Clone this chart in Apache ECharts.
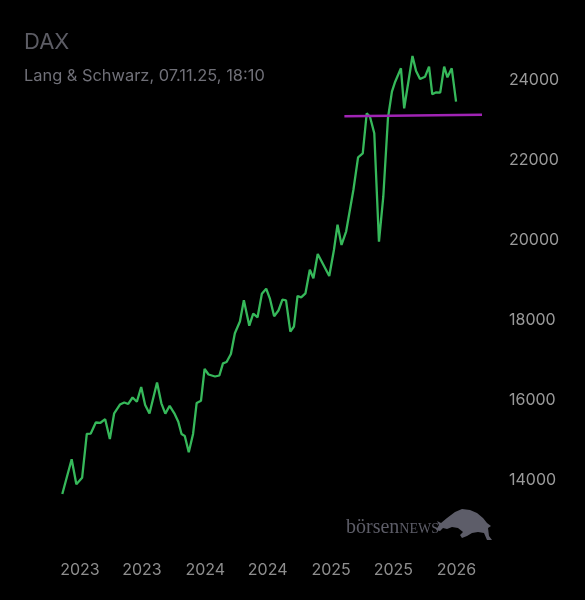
<!DOCTYPE html>
<html>
<head>
<meta charset="utf-8">
<script src="https://cdn.jsdelivr.net/npm/echarts@6/dist/echarts.min.js"></script>
<style>html,body{margin:0;padding:0;background:#000;}#c{width:585px;height:600px;}</style>
</head>
<body>
<div id="c"></div>
<script>
const dates = ['2022-11-10','2022-12-06','2022-12-19','2023-01-04','2023-01-17','2023-01-28','2023-02-11','2023-02-24','2023-03-09','2023-03-22',
'2023-04-03','2023-04-19','2023-05-01','2023-05-12','2023-05-24','2023-06-05','2023-06-17','2023-06-28','2023-07-10','2023-07-31',
'2023-08-12','2023-08-23','2023-09-04','2023-09-17','2023-09-28','2023-10-07','2023-10-16','2023-10-27','2023-11-08','2023-11-18',
'2023-11-30','2023-12-10','2023-12-21','2024-01-08','2024-01-20','2024-01-30','2024-02-09','2024-02-21','2024-03-03','2024-03-17',
'2024-03-28','2024-04-12','2024-04-23','2024-05-05','2024-05-17','2024-05-29','2024-06-08','2024-06-20','2024-07-02','2024-07-13',
'2024-07-23','2024-08-04','2024-08-14','2024-08-24','2024-09-03','2024-09-15','2024-09-27','2024-10-07','2024-10-19','2024-11-04',
'2024-11-20','2024-12-03','2024-12-13','2024-12-24','2025-01-06','2025-01-26','2025-02-08','2025-02-21','2025-03-04','2025-03-13',
'2025-03-25','2025-04-07','2025-04-19','2025-05-02','2025-05-13','2025-05-22','2025-06-07','2025-06-16','2025-07-09','2025-07-19',
'2025-07-30','2025-08-13','2025-08-24','2025-09-02','2025-09-13','2025-09-24','2025-10-05','2025-10-14','2025-10-26','2025-11-07'];
const values = [13663,14533,13908,14068,15163,15173,15450,15443,15533,15038,
15680,15898,15950,15913,16075,15970,16338,15888,15673,16450,
15930,15673,15868,15680,15470,15163,15113,14705,15163,15938,
15995,16788,16650,16600,16625,16930,16963,17163,17680,17975,
18505,17870,18170,18080,18670,18793,18555,18105,18250,18520,
18505,17720,17850,18613,18580,18680,19270,19055,19663,19388,
19113,19763,20395,19888,20230,21263,22080,22180,23180,23095,
22680,19970,21095,23063,23720,23970,24305,23305,24613,24238,
24038,24095,24345,23655,23705,23695,24345,24080,24305,23470];
const refDates = ['2025-01-01','2026-01-18'];
const refValues = [23105, 23145];
const xTickDates = ['2022-12-29','2023-06-19','2023-12-12','2024-06-02','2024-11-25','2025-05-17','2025-11-08'];
const xTickLabels = ['2023','2023','2024','2024','2025','2025','2026'];
const yTicks = [14000,16000,18000,20000,22000,24000];
const xStart = '2022-11-10', xEnd = '2026-01-18';

function ts(s){const p=s.split('-').map(Number);return Date.UTC(p[0],p[1]-1,p[2]);}
const xTickTs = xTickDates.map(ts);

const chart = echarts.init(document.getElementById('c'), null, {renderer:'canvas'});
chart.setOption({
  backgroundColor:'#000',
  animation:false,
  grid:{left:62.3, right:103, top:40.5, height:480},
  xAxis:{
    type:'value', min:ts(xStart), max:ts(xEnd),
    axisLine:{show:false}, axisTick:{show:false}, splitLine:{show:false},
    axisLabel:{
      customValues:xTickTs,
      color:'#8e8e8e', fontSize:16, fontFamily:'Inter', margin:42,
      formatter:function(v){
        let best=0, bd=Infinity;
        xTickTs.forEach((t,i)=>{const d=Math.abs(t-v); if(d<bd){bd=d;best=i;}});
        return xTickLabels[best];
      }
    }
  },
  yAxis:{
    type:'value', position:'right', min:13000, max:25000,
    axisLine:{show:false}, axisTick:{show:false}, splitLine:{show:false},
    axisLabel:{customValues:yTicks, color:'#9a9a9a', fontSize:16, fontFamily:'Inter', margin:27,
      formatter:function(v){return String(v);}}
  },
  series:[
    {type:'line', showSymbol:false, data:dates.map((d,i)=>[ts(d),values[i]]),
     lineStyle:{color:'#36b85a', width:2.3}, itemStyle:{color:'#36b85a'}},
    {type:'line', showSymbol:false, data:refDates.map((d,i)=>[ts(d),refValues[i]]),
     lineStyle:{color:'#a024b4', width:2.5}, itemStyle:{color:'#a024b4'}}
  ],
  graphic:[
    {type:'text', x:24, y:42, style:{text:'DAX', font:'22px Inter', fill:'#5c5c64', verticalAlign:'middle'}},
    {type:'text', x:24, y:76.5, style:{text:'Lang & Schwarz, 07.11.25, 18:10', font:'16.4px Inter', fill:'#707078', verticalAlign:'middle'}},
    {type:'text', x:346, y:528, style:{text:'{a|börsen}{b|NEWS}', fill:'#5d5d68', verticalAlign:'middle',
      rich:{a:{font:'20px "Liberation Serif"', fill:'#5d5d68'}, b:{font:'14px "Liberation Serif"', fill:'#5d5d68', padding:[3,0,0,0]}}}},
    {type:'polygon', shape:{points:[[436,530],[439,525],[437,521],[441,523],[447,518],[455,512],[462,509],[470,510],[477,513],[483,518],[487,523],[491,526],[488,528],[489,536],[492,540],[487,540],[484,533],[478,532],[472,533],[467,536],[462,538],[460,535],[463,532],[458,528],[452,527],[447,529],[443,528],[440,531]]},
     style:{fill:'#5d5d69'}}
  ]
});
</script>
</body>
</html>
